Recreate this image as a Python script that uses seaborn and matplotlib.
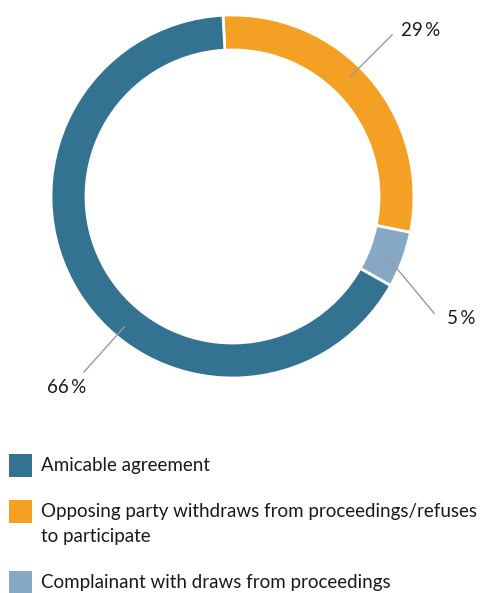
import matplotlib
matplotlib.use("Agg")
import matplotlib.pyplot as plt
from matplotlib.patches import Rectangle
import numpy as np
import seaborn as sns

# Outcome shares of proceedings (percent)
categories = [
    "Amicable agreement",
    "Opposing party withdraws from proceedings/refuses\nto participate",
    "Complainant with draws from proceedings",
]
shares = [66, 29, 5]
colors = ["#337391", "#F4A025", "#87A8C2"]
pct_labels = ["66\u2009%", "29\u2009%", "5\u2009%"]

sns.set_theme(style="white")
plt.rcParams["font.family"] = ["Lato", "DejaVu Sans"]

W, H = 480, 593
fig = plt.figure(figsize=(W / 100, H / 100), dpi=100)
ax = fig.add_axes([0, 0, 1, 1])

cx, cy = 232.5, H - 196.5
R = 181.5
ring = 35

# ring order, clockwise from the top: orange, light blue, dark blue
order = [1, 2, 0]
ax.pie(
    [shares[i] for i in order],
    colors=[colors[i] for i in order],
    startangle=93,
    counterclock=False,
    center=(cx, cy),
    radius=R,
    wedgeprops=dict(width=ring, edgecolor="white", linewidth=2),
    frame=True,
)
ax.set_xlim(0, W)
ax.set_ylim(0, H)
ax.set_aspect("equal")
ax.axis("off")

# leader lines: start angle and radius on the ring, line vector, text offset
leaders = {
    1: (45.5, 167, (43, 43), (8, 4)),
    2: (-20.9, 164, (49, -59), (12, -4)),
    0: (-129.7, 169, (-41, -46), (-37, -15)),
}
for i, (ang, r0, (lx, ly), (tx, ty)) in leaders.items():
    a = np.deg2rad(ang)
    x0, y0 = cx + r0 * np.cos(a), cy + r0 * np.sin(a)
    x1, y1 = x0 + lx, y0 + ly
    ax.plot([x0, x1], [y0, y1], color="#9a9a9a", lw=1, solid_capstyle="butt")
    ax.text(x1 + tx, y1 + ty, pct_labels[i], fontsize=13.5, color="#1a1a1a",
            ha="left", va="center")

# legend
leg_y = [465.5, 511.5, 582.5]
for lab, col, y in zip(categories, colors, leg_y):
    ax.add_patch(Rectangle((9, H - y - 11.5), 23, 23, facecolor=col, edgecolor="none"))
    for k, line in enumerate(lab.split("\n")):
        ax.text(41, H - y - 25 * k, line, fontsize=13.5, color="#1a1a1a",
                ha="left", va="center")

fig.savefig("out.png", dpi=100)
